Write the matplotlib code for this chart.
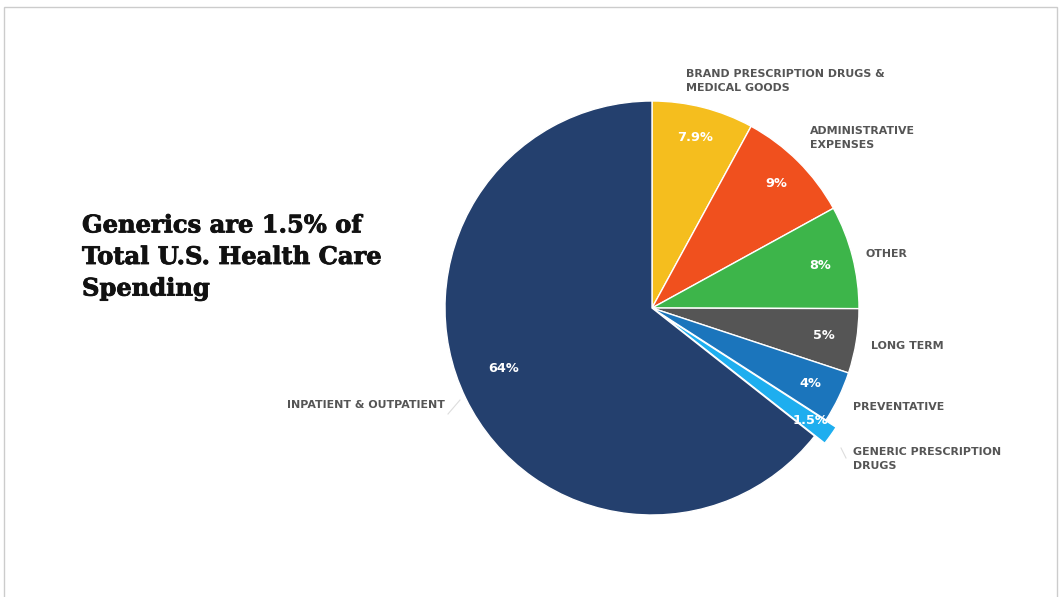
import numpy as np
import matplotlib.pyplot as plt
import matplotlib.patheffects as pe
from matplotlib.patches import Rectangle

# slices, clockwise from 12 o'clock
categories = ['BRAND PRESCRIPTION DRUGS &\nMEDICAL GOODS', 'ADMINISTRATIVE\nEXPENSES',
              'OTHER', 'LONG TERM', 'PREVENTATIVE',
              'GENERIC PRESCRIPTION\nDRUGS', 'INPATIENT & OUTPATIENT']
shares = [7.9, 9, 8, 5, 4, 1.5, 64]
share_labels = ['7.9%', '9%', '8%', '5%', '4%', '1.5%', '64%']
colors = ['#F5BE1E', '#F0501E', '#3DB54A', '#555555', '#1B75BC', '#1EAEEF', '#24406E']

title = 'Generics are 1.5% of\nTotal U.S. Health Care\nSpending'

# layout (pixel-like coordinates, y up)
W, H = 1060, 597
center = (652, H - 308)
radius = 207
explode_frac = [0, 0, 0, 0, 0, 0.06, 0]
label_pos = [(686, H - 81), (810, H - 138), (866, H - 254), (871, H - 346),
             (853, H - 407), (853, H - 459), (445, H - 405)]
label_ha = ['left', 'left', 'left', 'left', 'left', 'left', 'right']
pct_dist = [0.85, 0.85, 0.84, 0.84, 0.85, 0.88, 0.78]
pct_nudge = [(0, 0), (0, 0), (0, 0), (0, 0), (0, 0), (0, 0), (-3, 10)]

fig = plt.figure(figsize=(W / 100, H / 100), dpi=100)
ax = fig.add_axes([0, 0, 1, 1])

wedges, _ = ax.pie(shares, colors=colors, explode=[e * radius for e in explode_frac],
                   startangle=90, counterclock=False, center=center, radius=radius,
                   wedgeprops=dict(edgecolor='white', linewidth=1.0))

for w, lab, frac_r, (dx, dy) in zip(wedges, share_labels, pct_dist, pct_nudge):
    theta = np.deg2rad((w.theta1 + w.theta2) / 2)
    cx, cy = w.center
    r = radius * frac_r
    ax.text(cx + r * np.cos(theta) + dx, cy + r * np.sin(theta) + dy, lab,
            color='white', fontsize=9.3, fontweight='bold', family='DejaVu Sans',
            ha='center', va='center')

for cat, (x, y), ha in zip(categories, label_pos, label_ha):
    ax.text(x, y, cat, color='#555555', fontsize=7.9, fontweight='bold',
            family='DejaVu Sans', ha=ha, va='center', linespacing=1.55)

# faint leader lines
ax.plot([448, 460], [H - 414, H - 400], color='#dddddd', lw=0.8)
ax.plot([841, 846], [H - 448, H - 458], color='#dddddd', lw=0.8)

ax.text(82, H - 257, title, fontsize=17.4, fontweight='bold', family='DejaVu Serif',
        color='#111111', ha='left', va='center', linespacing=1.4,
        path_effects=[pe.withStroke(linewidth=0.6, foreground='#111111')])

# thin frame like the screenshot
ax.add_patch(Rectangle((4, -5), W - 7, H - 2, fill=False, edgecolor='#cccccc', lw=1))

ax.set_xlim(0, W)
ax.set_ylim(0, H)
ax.set_aspect('auto')
ax.axis('off')

fig.savefig('out.png', dpi=100, facecolor='white')
